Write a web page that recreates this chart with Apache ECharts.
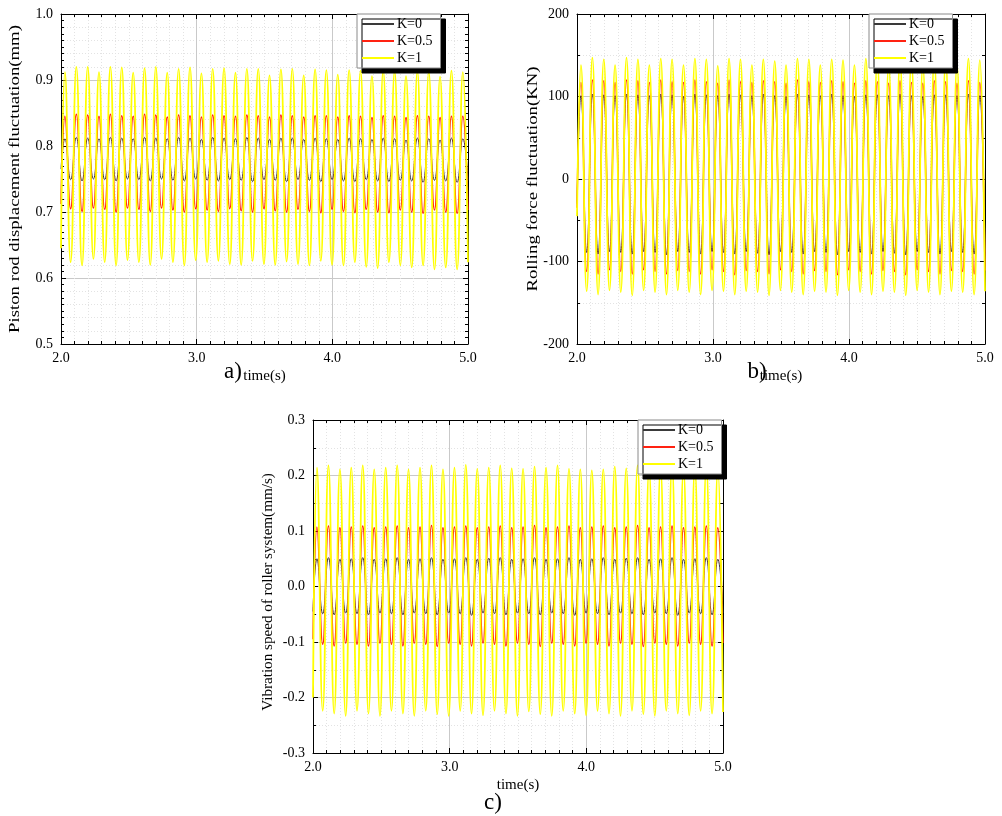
<!DOCTYPE html>
<html><head><meta charset="utf-8">
<script src="https://cdn.jsdelivr.net/npm/echarts@6/dist/echarts.min.js"></script>
<style>html,body{margin:0;padding:0;background:#fff}#chart{width:1002px;height:816px}</style>
</head><body><div id="chart"></div>
<script>
// ---- DATA (extrema) ----
const seriesNames = ['K=0', 'K=0.5', 'K=1'];
const xTicks = ['2.0', '3.0', '4.0', '5.0'];
const yNames = ['Piston rod displacement fluctuation(mm)', 'Rolling force fluctuation(KN)', 'Vibration speed of roller system(mm/s)'];
const panelLabels = ['a)', 'b)', 'c)'];
const startTime = 2.0;
const peakTimes = [2.029,2.113,2.197,2.280,2.364,2.448,2.532,2.616,2.699,2.783,2.867,2.951,3.035,3.118,3.202,3.286,3.370,3.454,3.537,3.621,3.705,3.789,3.873,3.956,4.040,4.124,4.208,4.292,4.375,4.459,4.543,4.627,4.711,4.794,4.878,4.962];
const troughTimes = [2.071,2.155,2.239,2.322,2.406,2.490,2.574,2.658,2.741,2.825,2.909,2.993,3.077,3.160,3.244,3.328,3.412,3.496,3.579,3.663,3.747,3.831,3.915,3.998,4.082,4.166,4.250,4.334,4.417,4.501,4.585,4.669,4.753,4.836,4.920,5.000];

// panel a: piston rod displacement (mm)
const aStart = [0.765, 0.712, 0.645];
const aBlackPeaks = [0.811,0.813,0.812,0.811,0.813,0.812,0.811,0.813,0.812,0.811,0.813,0.812,0.810,0.813,0.812,0.811,0.813,0.812,0.810,0.812,0.812,0.810,0.812,0.811,0.810,0.812,0.811,0.810,0.812,0.811,0.809,0.812,0.811,0.809,0.812,0.811];
const aBlackTroughs = [0.749,0.747,0.750,0.749,0.747,0.750,0.749,0.747,0.750,0.748,0.747,0.750,0.748,0.747,0.749,0.748,0.746,0.749,0.748,0.746,0.749,0.748,0.746,0.749,0.747,0.746,0.749,0.747,0.746,0.748,0.747,0.745,0.748,0.747,0.745,0.748];
const aRedPeaks = [0.845,0.848,0.847,0.845,0.848,0.846,0.845,0.848,0.847,0.844,0.847,0.846,0.844,0.847,0.846,0.845,0.847,0.846,0.844,0.847,0.846,0.844,0.846,0.846,0.844,0.846,0.845,0.843,0.846,0.845,0.843,0.846,0.845,0.843,0.845,0.845];
const aRedTroughs = [0.705,0.701,0.706,0.704,0.700,0.706,0.704,0.701,0.706,0.703,0.700,0.705,0.703,0.701,0.705,0.702,0.700,0.705,0.702,0.700,0.704,0.701,0.699,0.704,0.701,0.699,0.704,0.700,0.699,0.703,0.700,0.698,0.703,0.700,0.698,0.703];
const aYellowPeaks = [0.912,0.920,0.920,0.912,0.920,0.919,0.911,0.918,0.920,0.911,0.917,0.919,0.910,0.917,0.918,0.911,0.917,0.917,0.907,0.916,0.917,0.907,0.916,0.915,0.908,0.915,0.914,0.906,0.914,0.913,0.906,0.913,0.912,0.905,0.914,0.912];
const aYellowTroughs = [0.624,0.619,0.629,0.624,0.619,0.627,0.624,0.620,0.629,0.624,0.619,0.627,0.624,0.626,0.621,0.620,0.626,0.621,0.620,0.625,0.621,0.619,0.626,0.620,0.619,0.624,0.617,0.615,0.624,0.619,0.616,0.619,0.613,0.616,0.613,0.624];

// panel b: rolling force (KN)
const bStart = [-30, -35, -45];
const bBlackPeaks = [101,103,102,101,103,102,101,103,102,100,103,102,101,103,102,101,103,101,100,103,102,101,103,101,100,102,102,101,103,101,100,102,102,101,103,101];
const bBlackTroughs = [-89,-91,-88,-89,-91,-88,-89,-92,-88,-89,-91,-88,-89,-91,-88,-90,-92,-88,-89,-91,-88,-89,-92,-88,-89,-91,-88,-90,-92,-88,-89,-91,-88,-89,-91,-88];
const bRedPeaks = [117,120,119,117,120,119,117,120,118,117,120,118,116,120,118,117,119,118,116,120,118,117,119,118,116,119,118,116,119,117,116,119,118,116,119,117];
const bRedTroughs = [-112,-115,-110,-112,-115,-110,-112,-115,-111,-112,-115,-110,-112,-116,-111,-112,-115,-110,-112,-115,-111,-112,-116,-110,-112,-115,-111,-112,-116,-110,-112,-115,-111,-112,-115,-111];
const bYellowPeaks = [138,147,145,138,147,145,138,146,145,138,146,145,137,146,145,138,145,143,138,146,145,138,145,144,138,146,144,137,145,144,137,146,144,138,146,144];
const bYellowTroughs = [-136,-140,-135,-137,-141,-135,-137,-140,-135,-137,-140,-135,-136,-140,-136,-137,-141,-135,-137,-140,-136,-137,-141,-135,-137,-140,-136,-137,-141,-135,-137,-140,-136,-137,-140,-136];

// panel c: vibration speed of roller system (mm/s)
const cStart = [-0.045, -0.095, -0.200];
const cBlackPeaks = [0.050,0.052,0.049,0.050,0.052,0.049,0.050,0.052,0.049,0.050,0.052,0.049,0.050,0.052,0.049,0.051,0.052,0.049,0.050,0.052,0.049,0.050,0.052,0.049,0.050,0.052,0.049,0.051,0.052,0.049,0.050,0.052,0.049,0.050,0.052,0.049];
const cBlackTroughs = [-0.049,-0.051,-0.048,-0.049,-0.051,-0.048,-0.049,-0.051,-0.048,-0.049,-0.051,-0.048,-0.049,-0.052,-0.048,-0.049,-0.051,-0.048,-0.049,-0.051,-0.048,-0.049,-0.052,-0.048,-0.049,-0.051,-0.048,-0.049,-0.051,-0.048,-0.049,-0.052,-0.048,-0.049,-0.051,-0.048];
const cRedPeaks = [0.107,0.109,0.106,0.107,0.109,0.106,0.107,0.109,0.106,0.107,0.110,0.106,0.107,0.109,0.106,0.107,0.109,0.106,0.107,0.110,0.106,0.107,0.109,0.106,0.107,0.109,0.106,0.107,0.110,0.106,0.107,0.109,0.106,0.107,0.109,0.106];
const cRedTroughs = [-0.104,-0.107,-0.102,-0.104,-0.107,-0.102,-0.104,-0.107,-0.102,-0.104,-0.108,-0.102,-0.104,-0.107,-0.102,-0.104,-0.107,-0.102,-0.104,-0.108,-0.102,-0.104,-0.107,-0.102,-0.104,-0.107,-0.102,-0.104,-0.108,-0.102,-0.104,-0.107,-0.102,-0.104,-0.107,-0.102];
const cYellowPeaks = [0.214,0.218,0.211,0.214,0.218,0.211,0.214,0.218,0.211,0.214,0.218,0.211,0.214,0.219,0.212,0.214,0.218,0.213,0.212,0.216,0.214,0.218,0.212,0.211,0.209,0.211,0.216,0.213,0.218,0.212,0.214,0.218,0.211,0.214,0.217,0.211];
const cYellowTroughs = [-0.224,-0.229,-0.233,-0.224,-0.229,-0.233,-0.224,-0.229,-0.233,-0.224,-0.230,-0.233,-0.224,-0.229,-0.232,-0.224,-0.229,-0.233,-0.225,-0.230,-0.233,-0.224,-0.229,-0.232,-0.224,-0.229,-0.233,-0.224,-0.230,-0.233,-0.224,-0.229,-0.232,-0.224,-0.229,-0.226];

// ---- BUILD ----
const FONT = "'Times New Roman', 'Liberation Serif', serif";
const COLORS = ['#3a3a3a', '#ff2211', '#ffff00'];
const WIDTHS = [1, 1.5, 1.8];

function buildData(start, peaks, troughs) {
  const d = [[startTime, start]];
  for (let k = 0; k < peaks.length; k++) {
    d.push([peakTimes[k], peaks[k]]);
    d.push([troughTimes[k], troughs[k]]);
  }
  return d;
}

const grids = [
  {left: 61, top: 14, width: 407, height: 330},
  {left: 577, top: 14, width: 408, height: 330},
  {left: 313, top: 420, width: 410, height: 333}
];

const panels = [
  {start: aStart, s: [[aBlackPeaks, aBlackTroughs], [aRedPeaks, aRedTroughs], [aYellowPeaks, aYellowTroughs]],
   ymin: 0.5, ymax: 1.0, yint: 0.1, yminor: 10, gridMinor: 5, dec: 1},
  {start: bStart, s: [[bBlackPeaks, bBlackTroughs], [bRedPeaks, bRedTroughs], [bYellowPeaks, bYellowTroughs]],
   ymin: -200, ymax: 200, yint: 100, yminor: 2, gridMinor: 2, dec: 0},
  {start: cStart, s: [[cBlackPeaks, cBlackTroughs], [cRedPeaks, cRedTroughs], [cYellowPeaks, cYellowTroughs]],
   ymin: -0.3, ymax: 0.3, yint: 0.1, yminor: 2, gridMinor: 2, dec: 1}
];

const black = {color: '#000', width: 1};
const minorGridStyle = {color: '#e3e3e3', width: 1, type: [1, 2]};
const xAxis = [], yAxis = [], series = [], legend = [];
const legendLefts = [357, 869, 638];
const legendTops = [14, 14, 420];

panels.forEach((p, gi) => {
  const common = {
    type: 'value', gridIndex: gi,
    axisLine: {show: true, onZero: false, lineStyle: black},
    axisTick: {show: true, inside: true, length: 5, lineStyle: black}
  };
  const xi = xAxis.length;
  xAxis.push(Object.assign({}, common, {
    position: 'bottom', min: 2, max: 5, interval: 1,
    minorTick: {show: true, splitNumber: 10, length: 3, lineStyle: black},
    axisLabel: {color: '#000', fontFamily: FONT, fontSize: 14, margin: 7,
      formatter: v => xTicks[Math.round(v - 2)] || v.toFixed(1)},
    splitLine: {show: true, lineStyle: {color: '#c9c9c9', width: 1}},
    minorSplitLine: {show: true, lineStyle: minorGridStyle},
    name: 'time(s)', nameLocation: 'middle', nameGap: 25,
    nameTextStyle: {color: '#000', fontFamily: FONT, fontSize: 15}
  }));
  xAxis.push(Object.assign({}, common, {
    position: 'top', min: 2, max: 5, interval: 1,
    minorTick: {show: true, splitNumber: 10, length: 3, lineStyle: black},
    axisLabel: {show: false}, splitLine: {show: false}
  }));
  const yi = yAxis.length;
  yAxis.push(Object.assign({}, common, {
    position: 'left', min: p.ymin, max: p.ymax, interval: p.yint,
    minorTick: {show: true, splitNumber: p.yminor, length: 3, lineStyle: black},
    axisLabel: {color: '#000', fontFamily: FONT, fontSize: 14, margin: 8,
      formatter: v => v.toFixed(p.dec)},
    splitLine: {show: true, lineStyle: {color: '#c9c9c9', width: 1}},
    minorSplitLine: {show: p.gridMinor === p.yminor, lineStyle: minorGridStyle}
  }));
  yAxis.push(Object.assign({}, common, {
    position: 'right', min: p.ymin, max: p.ymax, interval: p.yint,
    minorTick: {show: true, splitNumber: p.yminor, length: 3, lineStyle: black},
    axisLabel: {show: false}, splitLine: {show: false}
  }));
  if (p.gridMinor !== p.yminor) {
    // invisible helper axis that only draws the dotted minor grid
    yAxis.push({
      type: 'value', gridIndex: gi, position: 'left', min: p.ymin, max: p.ymax, interval: p.yint,
      axisLine: {show: false}, axisTick: {show: false}, axisLabel: {show: false},
      splitLine: {show: false}, minorTick: {show: false, splitNumber: p.gridMinor},
      minorSplitLine: {show: true, lineStyle: minorGridStyle}
    });
  }
  // black first, then red, yellow on top
  [0, 1, 2].forEach(si => {
    series.push({
      name: seriesNames[si], type: 'line', xAxisIndex: xi, yAxisIndex: yi,
      data: buildData(p.start[si], p.s[si][0], p.s[si][1]),
      smooth: 0.5, symbol: 'none', showSymbol: false, clip: true,
      lineStyle: {color: COLORS[si], width: WIDTHS[si]},
      itemStyle: {color: COLORS[si]}
    });
  });
  legend.push({
    data: seriesNames, orient: 'vertical', left: legendLefts[gi], top: legendTops[gi],
    itemWidth: 32, itemHeight: 14, itemGap: 3, padding: [3, 8, 3, 4],
    backgroundColor: '#fff', borderColor: '#8a8a8a', borderWidth: 1,
    shadowColor: '#000', shadowBlur: 0, shadowOffsetX: 5, shadowOffsetY: 5,
    itemStyle: {color: 'rgba(0,0,0,0)', borderWidth: 0, opacity: 0},
    textStyle: {color: '#000', fontFamily: FONT, fontSize: 14, padding: [0, 0, 0, -2]},
    selectedMode: false, z: 10
  });
});

// y-axis titles (vertically stretched in the source figure) and panel labels
const nameSpec = [
  {x: 15, y: 179, sx: 1.34},
  {x: 533, y: 179, sx: 1.34},
  {x: 268, y: 592, sx: 1.08}
];
const graphic = nameSpec.map((n, i) => ({
  type: 'text', x: n.x, y: n.y, rotation: Math.PI / 2, scaleX: n.sx, scaleY: 1, z: 20,
  style: {text: yNames[i], font: '14px ' + FONT, fill: '#000', textAlign: 'center', textVerticalAlign: 'middle'}
}));
const labelPos = [[233, 372], [757, 372], [493, 803]];
labelPos.forEach((pp, i) => graphic.push({
  type: 'text', x: pp[0], y: pp[1], z: 20,
  style: {text: panelLabels[i], font: '23px ' + FONT, fill: '#000', textAlign: 'center', textVerticalAlign: 'middle'}
}));

const chart = echarts.init(document.getElementById('chart'), null, {renderer: 'canvas'});
chart.setOption({
  animation: false,
  backgroundColor: '#fff',
  textStyle: {fontFamily: FONT},
  grid: grids,
  xAxis, yAxis, series, legend, graphic
});
</script></body></html>
